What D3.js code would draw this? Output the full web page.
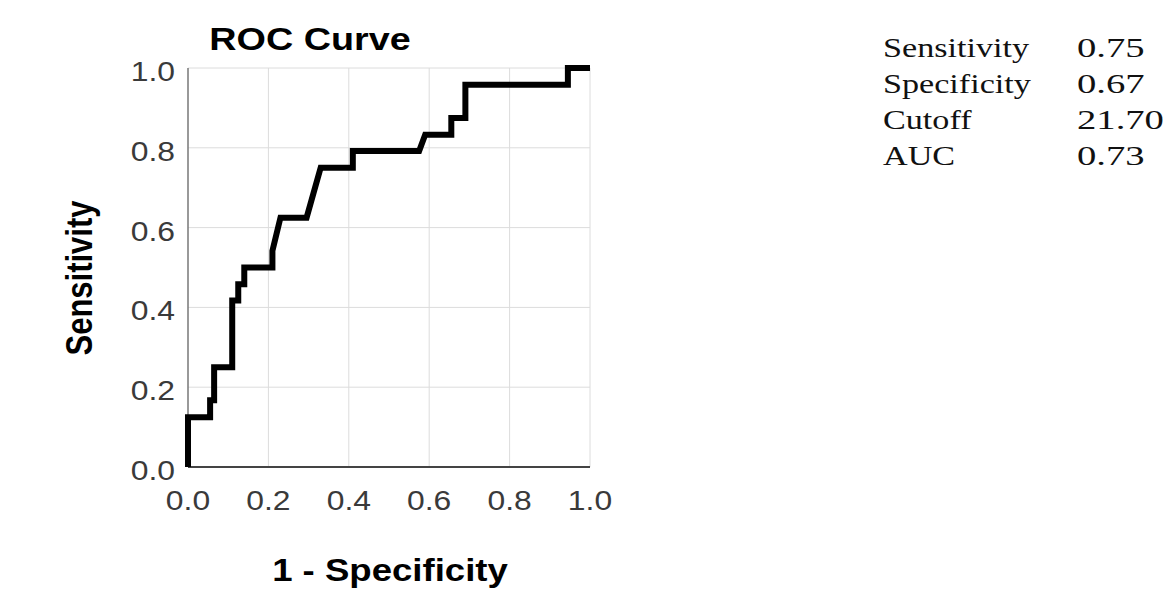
<!DOCTYPE html>
<html>
<head>
<meta charset="utf-8">
<script src="https://cdn.jsdelivr.net/npm/d3@7"></script>
<style>
    body { margin: 0; background: #fff; }
    svg { display: block; }
</style>
</head>
<body>
<div id="chart"></div>
<script>
// ROC points (1 - specificity, sensitivity)
const fpr = [0, 0, 0.055, 0.055, 0.065, 0.065, 0.11, 0.11, 0.125, 0.125, 0.14, 0.14, 0.21, 0.21,
    0.23, 0.295, 0.33, 0.41, 0.41, 0.575, 0.59, 0.655, 0.655, 0.69, 0.69, 0.945, 0.945, 1];
const tpr = [0, 0.125, 0.125, 0.167, 0.167, 0.25, 0.25, 0.417, 0.417, 0.458, 0.458, 0.5, 0.5, 0.542,
    0.625, 0.625, 0.75, 0.75, 0.792, 0.792, 0.833, 0.833, 0.875, 0.875, 0.958, 0.958, 1, 1];
const tickValues = [0, 0.2, 0.4, 0.6, 0.8, 1.0];

const statNames = ['Sensitivity', 'Specificity', 'Cutoff', 'AUC'];
const statValues = ['0.75', '0.67', '21.70', '0.73'];

const width = 1169, height = 597;
const stretch = 1.18; // the picture is a bit wider than tall

const svg = d3.select('#chart').append('svg')
    .attr('width', width)
    .attr('height', height);

const x = d3.scaleLinear().domain([0, 1]).range([188, 590]);
const y = d3.scaleLinear().domain([0, 1]).range([467, 68]);

// grid
svg.append('g')
    .selectAll('line')
    .data(tickValues.slice(1))
    .join('line')
    .attr('x1', d => x(d)).attr('x2', d => x(d))
    .attr('y1', y(0)).attr('y2', y(1))
    .attr('stroke', '#dcdcdc')
    .attr('stroke-width', 1);

svg.append('g')
    .selectAll('line')
    .data(tickValues.slice(1))
    .join('line')
    .attr('x1', x(0)).attr('x2', x(1))
    .attr('y1', d => y(d)).attr('y2', d => y(d))
    .attr('stroke', '#dcdcdc')
    .attr('stroke-width', 1);

// axis lines
svg.append('line')
    .attr('x1', x(0)).attr('x2', x(0))
    .attr('y1', y(0)).attr('y2', y(1))
    .attr('stroke', '#777')
    .attr('stroke-width', 1.5);

svg.append('line')
    .attr('x1', x(0)).attr('x2', x(1))
    .attr('y1', y(0)).attr('y2', y(0))
    .attr('stroke', '#444')
    .attr('stroke-width', 2);

// tick labels
const fmt = d3.format('.1f');
const sans = 'Liberation Sans, Arial, sans-serif';

svg.append('g')
    .selectAll('text')
    .data(tickValues)
    .join('text')
    .attr('transform', d => `translate(175,${y(d) + 13}) scale(${stretch},1)`)
    .attr('text-anchor', 'end')
    .style('font-family', sans)
    .style('font-size', '27px')
    .style('fill', '#3a3a3a')
    .text(d => fmt(d));

svg.append('g')
    .selectAll('text')
    .data(tickValues)
    .join('text')
    .attr('transform', d => `translate(${x(d)},510) scale(${stretch},1)`)
    .attr('text-anchor', 'middle')
    .style('font-family', sans)
    .style('font-size', '27px')
    .style('fill', '#3a3a3a')
    .text(d => fmt(d));

// curve
const line = d3.line()
    .x(d => x(d[0]))
    .y(d => y(d[1]));

svg.append('path')
    .datum(fpr.map((f, i) => [f, tpr[i]]))
    .attr('d', line)
    .attr('fill', 'none')
    .attr('stroke', '#000')
    .attr('stroke-width', 6)
    .attr('stroke-linejoin', 'miter');

// titles
svg.append('text')
    .attr('transform', `translate(310,50) scale(${stretch},1)`)
    .attr('text-anchor', 'middle')
    .style('font-family', sans)
    .style('font-size', '32px')
    .style('font-weight', 'bold')
    .text('ROC Curve');

svg.append('text')
    .attr('transform', `translate(390,581) scale(${stretch},1)`)
    .attr('text-anchor', 'middle')
    .style('font-family', sans)
    .style('font-size', '31px')
    .style('font-weight', 'bold')
    .text('1 - Specificity');

svg.append('text')
    .attr('transform', `translate(92,278) scale(${stretch},1) rotate(-90)`)
    .attr('text-anchor', 'middle')
    .style('font-family', sans)
    .style('font-size', '31px')
    .style('font-weight', 'bold')
    .text('Sensitivity');

// stats table on the right
const serif = 'Liberation Serif, Times New Roman, serif';
const rowY = d3.scalePoint().domain(statNames).range([57, 165]);

svg.append('g')
    .selectAll('text')
    .data(statNames)
    .join('text')
    .attr('transform', d => `translate(883,${rowY(d)}) scale(1.22,1)`)
    .style('font-family', serif)
    .style('font-size', '28px')
    .style('fill', '#111')
    .text(d => d);

svg.append('g')
    .selectAll('text')
    .data(statValues)
    .join('text')
    .attr('transform', (d, i) => `translate(1077,${rowY(statNames[i])}) scale(1.38,1)`)
    .style('font-family', serif)
    .style('font-size', '28px')
    .style('fill', '#111')
    .text(d => d);
</script>
</body>
</html>
